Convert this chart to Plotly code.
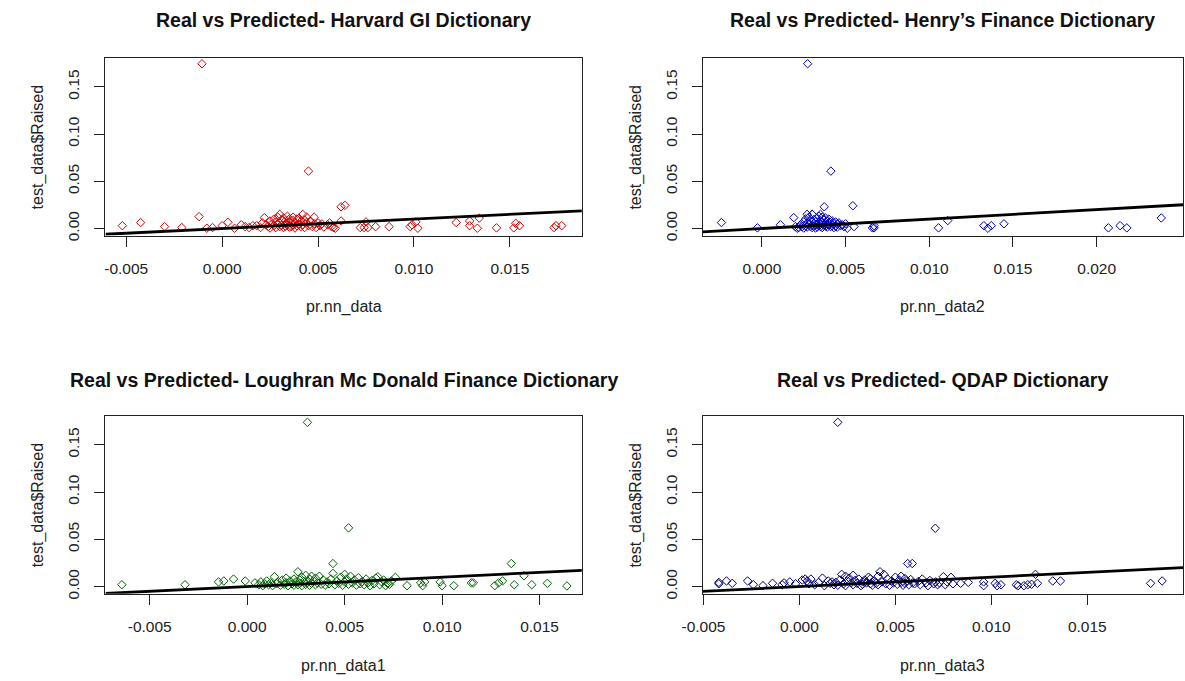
import plotly.graph_objects as go

# ---------------- data ----------------
hgi_pred = [
    -0.00105, 0.0045, 0.0062, 0.0064, -0.0052, -0.00425, -0.0030, -0.0021, -0.0012, -0.0008,
    -0.0005, 0.0000, 0.0003, 0.00065, 0.0010, 0.0012, 0.0014, 0.0016, 0.0062, 0.0058,
    0.0059, 0.0072, 0.0074, 0.0076, 0.0075, 0.0080, 0.0087, 0.0098, 0.0099, 0.0101,
    0.0102, 0.0122, 0.0129, 0.0129, 0.0133, 0.0134, 0.0143, 0.0152, 0.0153, 0.0155,
    0.0173, 0.0174, 0.0177,
    0.0018, 0.0020, 0.0021, 0.0022, 0.0023, 0.0024, 0.0025, 0.0025, 0.0026, 0.0027,
    0.0027, 0.0028, 0.0028, 0.0029, 0.0029, 0.0030, 0.0030, 0.0030, 0.0031, 0.0031,
    0.0032, 0.0032, 0.0033, 0.0033, 0.0033, 0.0034, 0.0034, 0.0035, 0.0035, 0.0035,
    0.0036, 0.0036, 0.0037, 0.0037, 0.0037, 0.0038, 0.0038, 0.0039, 0.0039, 0.0040,
    0.0040, 0.0041, 0.0041, 0.0042, 0.0042, 0.0043, 0.0043, 0.0044, 0.0044, 0.0045,
    0.0046, 0.0047, 0.0048, 0.0048, 0.0049, 0.0050, 0.0051, 0.0052, 0.0053, 0.0055,
    0.0056, 0.0057,
]
hgi_real = [
    0.1745, 0.0608, 0.0230, 0.0245, 0.0030, 0.0063, 0.0020, 0.0010, 0.0126, 0.0003,
    0.0010, 0.0030, 0.0066, 0.0003, 0.0040, 0.0020, 0.0010, 0.0030, 0.0080, 0.0010,
    0.0003, 0.0010, 0.0010, 0.0010, 0.0070, 0.0020, 0.0020, 0.0020, 0.0040, 0.0070,
    0.0003, 0.0063, 0.0080, 0.0030, 0.0003, 0.0110, 0.0007, 0.0007, 0.0055, 0.0030,
    0.0010, 0.0030, 0.0030,
    0.0030, 0.0010, 0.0060, 0.0115, 0.0040, 0.0020, 0.0080, 0.0005, 0.0050, 0.0100,
    0.0030, 0.0070, 0.0010, 0.0120, 0.0045, 0.0150, 0.0060, 0.0020, 0.0090, 0.0035,
    0.0010, 0.0110, 0.0050, 0.0080, 0.0025, 0.0130, 0.0040, 0.0070, 0.0015, 0.0100,
    0.0055, 0.0020, 0.0120, 0.0035, 0.0085, 0.0005, 0.0060, 0.0100, 0.0030, 0.0045,
    0.0110, 0.0020, 0.0075, 0.0150, 0.0040, 0.0010, 0.0090, 0.0060, 0.0120, 0.0030,
    0.0080, 0.0020, 0.0120, 0.0050, 0.0010, 0.0060, 0.0030, 0.0050, 0.0015, 0.0040,
    0.0060, 0.0020,
]

henry_pred = [
    0.00273, 0.00412, 0.00543, 0.00372, -0.00242, -0.00027, 0.0011, 0.0019, 0.0020, 0.0021,
    0.0027, 0.0030, 0.0035, 0.0051, 0.0055, 0.0066, 0.0067, 0.0067, 0.01055, 0.0111,
    0.01326, 0.0135, 0.0137, 0.01446, 0.0207, 0.0214, 0.0218, 0.02386,
    0.0022, 0.0023, 0.0024, 0.0025, 0.0025, 0.0026, 0.0026, 0.0027, 0.0027, 0.0028,
    0.0028, 0.0029, 0.0029, 0.0030, 0.0030, 0.0030, 0.0031, 0.0031, 0.0031, 0.0032,
    0.0032, 0.0033, 0.0033, 0.0033, 0.0034, 0.0034, 0.0034, 0.0035, 0.0035, 0.0035,
    0.0036, 0.0036, 0.0036, 0.0037, 0.0037, 0.0038, 0.0038, 0.0038, 0.0039, 0.0039,
    0.0040, 0.0040, 0.0041, 0.0041, 0.0042, 0.0042, 0.0043, 0.0043, 0.0044, 0.0044,
    0.0045, 0.0045, 0.0046, 0.0047, 0.0048, 0.0049, 0.0050,
]
henry_real = [
    0.1745, 0.0608, 0.0241, 0.0230, 0.0063, 0.0007, 0.0040, 0.0115, 0.0020, 0.0003,
    0.0150, 0.0150, 0.0150, 0.0003, 0.0020, 0.0007, 0.0007, 0.0030, 0.0007, 0.0084,
    0.0030, 0.0003, 0.0030, 0.0050, 0.0007, 0.0030, 0.0007, 0.0112,
    0.0010, 0.0040, 0.0020, 0.0070, 0.0005, 0.0030, 0.0100, 0.0015, 0.0060, 0.0045,
    0.0120, 0.0020, 0.0080, 0.0035, 0.0010, 0.0150, 0.0055, 0.0025, 0.0095, 0.0005,
    0.0070, 0.0040, 0.0110, 0.0015, 0.0060, 0.0030, 0.0130, 0.0020, 0.0085, 0.0045,
    0.0010, 0.0065, 0.0120, 0.0035, 0.0090, 0.0025, 0.0110, 0.0050, 0.0015, 0.0075,
    0.0040, 0.0100, 0.0020, 0.0060, 0.0080, 0.0030, 0.0050, 0.0010, 0.0070, 0.0025,
    0.0045, 0.0015, 0.0060, 0.0030, 0.0040, 0.0020, 0.0050,
]

lm_pred = [
    0.00309, 0.0052, 0.0044, 0.01355, -0.00643, -0.00319, -0.00147, -0.0012, -0.0007, -0.0001,
    0.0082, 0.0089, 0.0090, 0.0091, 0.0099, 0.0100, 0.0106, 0.0115, 0.0116, 0.0127,
    0.0129, 0.0131, 0.0137, 0.0142, 0.0146, 0.0154, 0.0164,
    0.0004, 0.0006, 0.0007, 0.0008, 0.0009, 0.0010, 0.0011, 0.0012, 0.0013, 0.0014,
    0.0015, 0.0016, 0.0017, 0.0018, 0.0019, 0.0020, 0.0020, 0.0021, 0.0022, 0.0023,
    0.0024, 0.0024, 0.0025, 0.0026, 0.0026, 0.0027, 0.0027, 0.0028, 0.0028, 0.0029,
    0.0030, 0.0030, 0.0031, 0.0032, 0.0032, 0.0033, 0.0033, 0.0034, 0.0035, 0.0035,
    0.0036, 0.0037, 0.0038, 0.0039, 0.0040, 0.0041, 0.0042, 0.0043, 0.0044, 0.0045,
    0.0046, 0.0047, 0.0048, 0.0049, 0.0050, 0.0050, 0.0051, 0.0052, 0.0053, 0.0054,
    0.0055, 0.0056, 0.0057, 0.0058, 0.0059, 0.0060, 0.0061, 0.0062, 0.0063, 0.0064,
    0.0065, 0.0066, 0.0067, 0.0068, 0.0069, 0.0070, 0.0071, 0.0072, 0.0073, 0.0074,
    0.0076,
]
lm_real = [
    0.1737, 0.0621, 0.0244, 0.0244, 0.0020, 0.0020, 0.0050, 0.0060, 0.0080, 0.0060,
    0.0010, 0.0040, 0.0010, 0.0050, 0.0050, 0.0010, 0.0010, 0.0040, 0.0040, 0.0010,
    0.0040, 0.0060, 0.0020, 0.0115, 0.0020, 0.0035, 0.0007,
    0.0040, 0.0020, 0.0050, 0.0010, 0.0030, 0.0060, 0.0020, 0.0040, 0.0010, 0.0105,
    0.0030, 0.0050, 0.0015, 0.0070, 0.0025, 0.0040, 0.0090, 0.0010, 0.0060, 0.0030,
    0.0080, 0.0015, 0.0050, 0.0157, 0.0020, 0.0070, 0.0035, 0.0100, 0.0010, 0.0055,
    0.0025, 0.0120, 0.0045, 0.0080, 0.0015, 0.0110, 0.0035, 0.0060, 0.0020, 0.0090,
    0.0040, 0.0110, 0.0025, 0.0070, 0.0015, 0.0050, 0.0030, 0.0080, 0.0140, 0.0020,
    0.0060, 0.0035, 0.0100, 0.0015, 0.0130, 0.0050, 0.0080, 0.0025, 0.0110, 0.0040,
    0.0070, 0.0015, 0.0095, 0.0030, 0.0055, 0.0020, 0.0080, 0.0040, 0.0010, 0.0065,
    0.0030, 0.0090, 0.0105, 0.0020, 0.0050, 0.0070, 0.0010, 0.0035, 0.0025, 0.0060,
    0.0098,
]

qdap_pred = [
    0.0020, 0.00708, 0.00564, 0.00588, -0.0042, -0.0042, -0.0038, -0.0035, -0.0027, -0.0024,
    -0.0019, -0.0014, -0.0009, -0.0008, -0.0005, -0.0002, 0.00015, 0.0003, 0.0084, 0.0088,
    0.0096, 0.0096, 0.0102, 0.0103, 0.0105, 0.0113, 0.0114, 0.0117, 0.0119, 0.0121,
    0.0123, 0.0124, 0.0132, 0.0136, 0.0183, 0.0189,
    0.0004, 0.0005, 0.0006, 0.0008, 0.0010, 0.0012, 0.0013, 0.0015, 0.0016, 0.0017,
    0.0018, 0.0019, 0.0020, 0.0021, 0.0022, 0.0023, 0.0024, 0.0024, 0.0025, 0.0026,
    0.0027, 0.0028, 0.0028, 0.0029, 0.0030, 0.0031, 0.0032, 0.0033, 0.0033, 0.0034,
    0.0035, 0.0036, 0.0037, 0.0037, 0.0038, 0.0039, 0.0040, 0.0041, 0.0041, 0.0042,
    0.0043, 0.0044, 0.0045, 0.0046, 0.0047, 0.0048, 0.0049, 0.0050, 0.0051, 0.0052,
    0.0053, 0.0053, 0.0054, 0.0055, 0.0055, 0.0056, 0.0057, 0.0058, 0.0059, 0.0060,
    0.0062, 0.0063, 0.0064, 0.0066, 0.0067, 0.0068, 0.0070, 0.0071, 0.0072, 0.0073,
    0.0075, 0.0076, 0.0077, 0.0079, 0.0080,
]
qdap_real = [
    0.1737, 0.0617, 0.0244, 0.0244, 0.0045, 0.0030, 0.0060, 0.0035, 0.0060, 0.0020,
    0.0010, 0.0035, 0.0020, 0.0040, 0.0050, 0.0030, 0.0070, 0.0080, 0.0035, 0.0045,
    0.0050, 0.0010, 0.0035, 0.0010, 0.0020, 0.0020, 0.0010, 0.0010, 0.0020, 0.0025,
    0.0130, 0.0035, 0.0060, 0.0060, 0.0035, 0.0060,
    0.0060, 0.0030, 0.0080, 0.0020, 0.0045, 0.0090, 0.0010, 0.0060, 0.0035, 0.0050,
    0.0020, 0.0045, 0.0015, 0.0070, 0.0130, 0.0030, 0.0110, 0.0010, 0.0060, 0.0090,
    0.0040, 0.0020, 0.0120, 0.0065, 0.0035, 0.0080, 0.0010, 0.0050, 0.0025, 0.0070,
    0.0040, 0.0100, 0.0030, 0.0085, 0.0015, 0.0060, 0.0035, 0.0110, 0.0020, 0.0157,
    0.0050, 0.0130, 0.0030, 0.0080, 0.0015, 0.0060, 0.0040, 0.0100, 0.0025, 0.0070,
    0.0045, 0.0110, 0.0015, 0.0085, 0.0035, 0.0060, 0.0020, 0.0075, 0.0040, 0.0030,
    0.0055, 0.0020, 0.0080, 0.0040, 0.0010, 0.0065, 0.0030, 0.0050, 0.0020, 0.0040,
    0.0105, 0.0020, 0.0050, 0.0098, 0.0030,
]

titles = [
    "Real vs Predicted- Harvard GI Dictionary",
    "Real vs Predicted- Henry\u2019s Finance Dictionary",
    "Real vs Predicted- Loughran Mc Donald Finance Dictionary",
    "Real vs Predicted- QDAP Dictionary",
]
x_titles = ["pr.nn_data", "pr.nn_data2", "pr.nn_data1", "pr.nn_data3"]
y_title = "test_data$Raised"
colors = ["#D40000", "#0000C4", "#006400", "#000080"]

x_ticks = [
    [-0.005, 0.0, 0.005, 0.010, 0.015],
    [0.0, 0.005, 0.010, 0.015, 0.020],
    [-0.005, 0.0, 0.005, 0.010, 0.015],
    [-0.005, 0.0, 0.005, 0.010, 0.015],
]
x_tick_labels = [
    ["-0.005", "0.000", "0.005", "0.010", "0.015"],
    ["0.000", "0.005", "0.010", "0.015", "0.020"],
    ["-0.005", "0.000", "0.005", "0.010", "0.015"],
    ["-0.005", "0.000", "0.005", "0.010", "0.015"],
]
y_ticks = [0.0, 0.05, 0.10, 0.15]
y_tick_labels = ["0.00", "0.05", "0.10", "0.15"]

# reference line: abline(0, 1)
ABLINE_INTERCEPT = 0.0
ABLINE_SLOPE = 1.0

# ---------------- layout geometry ----------------
W, H = 1185, 681
x_ranges = [
    [-0.00608, 0.01875],
    [-0.00354, 0.02516],
    [-0.00727, 0.01717],
    [-0.00504, 0.01999],
]
y_range = [-0.0075, 0.1808]
x_doms = [[86 / W, 571 / W], [694 / W, 1183 / W]]
y_doms = [[1 - 237.7 / H, 1 - 58.3 / H], [1 - 599 / H, 1 - 419.3 / H]]

series = [(hgi_pred, hgi_real), (henry_pred, henry_real), (lm_pred, lm_real), (qdap_pred, qdap_real)]

FONT = "Liberation Sans, Arial, Helvetica, sans-serif"
fig = go.Figure()
annotations = []
layout = dict(
    width=W, height=H, margin=dict(l=0, r=0, t=0, b=0),
    paper_bgcolor="white", plot_bgcolor="white", showlegend=False,
    font=dict(family=FONT, color="#111111"),
)

for i, (xs, ys) in enumerate(series):
    col = i % 2
    row = i // 2
    sfx = "" if i == 0 else str(i + 1)
    xa, ya = "x" + sfx, "y" + sfx
    fig.add_trace(go.Scatter(
        x=xs, y=ys, mode="markers", xaxis=xa, yaxis=ya,
        marker=dict(symbol="diamond-open", size=6.5, color=colors[i], line=dict(width=1, color=colors[i])),
        hoverinfo="skip",
    ))
    lx = x_ranges[i]
    fig.add_trace(go.Scatter(
        x=lx, y=[ABLINE_INTERCEPT + ABLINE_SLOPE * v for v in lx], mode="lines",
        xaxis=xa, yaxis=ya, line=dict(color="black", width=2.8), hoverinfo="skip",
    ))
    common = dict(
        showgrid=False, zeroline=False, showline=True, mirror=True,
        linecolor="#222222", linewidth=1, ticks="outside", ticklen=10, tickwidth=1,
        tickcolor="#222222", tickfont=dict(family=FONT, size=15.5, color="#222222"),
        ticklabelstandoff=9,
    )
    layout["xaxis" + sfx] = dict(
        common, domain=x_doms[col], range=x_ranges[i], anchor=ya,
        tickmode="array", tickvals=x_ticks[i], ticktext=x_tick_labels[i],
    )
    layout["yaxis" + sfx] = dict(
        common, domain=y_doms[row], range=y_range, anchor=xa,
        tickmode="array", tickvals=y_ticks, ticktext=y_tick_labels, tickangle=-90,
    )
    cx = (x_doms[col][0] + x_doms[col][1]) / 2
    cy = (y_doms[row][0] + y_doms[row][1]) / 2
    title_y = [20, 383][row]
    xt_y = [310, 672][row]
    yt_x = [17, 626][col]
    annotations.append(dict(
        text=titles[i], x=cx, y=1 - title_y / H, xref="paper", yref="paper",
        xanchor="center", yanchor="middle", showarrow=False,
        font=dict(family=FONT, size=19.5, color="#111111", weight="bold"),
    ))
    annotations.append(dict(
        text=x_titles[i], x=cx, y=1 - xt_y / H, xref="paper", yref="paper",
        xanchor="center", yanchor="middle", showarrow=False,
        font=dict(family=FONT, size=16, color="#222222"),
    ))
    annotations.append(dict(
        text=y_title, x=yt_x / W, y=cy, xref="paper", yref="paper",
        xanchor="center", yanchor="middle", showarrow=False, textangle=-90,
        font=dict(family=FONT, size=16, color="#222222"),
    ))

layout["annotations"] = annotations
fig.update_layout(**layout)
fig.write_html("out.html", config={"displayModeBar": False},
               post_script="document.body.style.margin='0';")
